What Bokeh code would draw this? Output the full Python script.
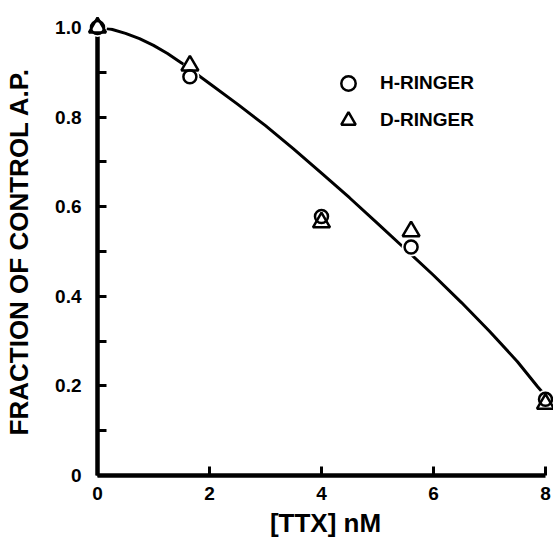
from bokeh.plotting import figure
from bokeh.models import Range1d, FixedTicker, Legend, LegendItem, ColumnDataSource
from bokeh.embed import file_html
from bokeh.resources import INLINE

# ---- data ----
ttx_nM = [0.0, 1.65, 4.0, 5.6, 8.0]
h_ringer = [1.0, 0.89, 0.578, 0.51, 0.17]
d_ringer = [1.0, 0.915, 0.565, 0.545, 0.16]

curve_x = [0.0, 0.25, 0.5, 0.75, 1.0, 1.25, 1.5, 2.0, 2.5, 3.0, 3.5, 4.0, 4.5, 5.0, 5.5, 6.0, 6.5, 7.0, 7.5, 7.86, 8.0]
curve_y = [1.0, 0.996, 0.987, 0.975, 0.960, 0.942, 0.921, 0.875, 0.829, 0.781, 0.729, 0.675, 0.62, 0.563, 0.505, 0.447, 0.386, 0.322, 0.254, 0.198, 0.178]

x_ticks = [0, 2, 4, 6, 8]
y_ticks = [0, 0.2, 0.4, 0.6, 0.8, 1.0]
y_minor = [0.1, 0.3, 0.5, 0.7, 0.9]
y_tick_labels = {0: "0", 0.2: "0.2", 0.4: "0.4", 0.6: "0.6", 0.8: "0.8", 1.0: "1.0"}

FONT = "Liberation Sans"

p = figure(width=553, height=544, output_backend="svg", toolbar_location=None,
           x_range=Range1d(0, 8.143), y_range=Range1d(0, 1.0),
           min_border_left=97, min_border_right=0, min_border_top=27, min_border_bottom=69)
p.outline_line_color = None
p.grid.visible = False

# curve
p.line(curve_x, curve_y, line_color="black", line_width=3)

src = ColumnDataSource(dict(x=ttx_nM, h=h_ringer, d=d_ringer))
# white halos break the line around the markers
p.scatter("x", "h", source=src, marker="circle", size=19, fill_color="white", line_color=None, level="overlay")
p.scatter("x", "d", source=src, marker="triangle", size=22, fill_color="white", line_color=None, level="overlay")
rh = p.scatter("x", "h", source=src, marker="circle", size=13, fill_color="white",
               line_color="black", line_width=2.5, level="overlay")
rd = p.scatter("x", "d", source=src, marker="triangle", size=17, fill_color=None,
               line_color="black", line_width=2.5, level="overlay")

# axes
xa = p.xaxis[0]
xa.ticker = FixedTicker(ticks=x_ticks)
xa.bounds = (0, 8)
xa.axis_label = "[TTX] nM"
ya = p.yaxis[0]
ya.ticker = FixedTicker(ticks=y_ticks, minor_ticks=y_minor)
ya.bounds = (0, 1.0)
ya.axis_label = "FRACTION OF CONTROL A.P."
ya.major_label_overrides = y_tick_labels

p.axis.axis_line_width = 4.5
p.axis.axis_line_color = "black"
p.axis.major_tick_in = 9
p.axis.major_tick_out = 0
p.axis.minor_tick_in = 9
p.axis.minor_tick_out = 0
p.axis.major_tick_line_width = 3
p.axis.minor_tick_line_width = 3
p.axis.major_tick_line_color = "black"
p.axis.minor_tick_line_color = "black"
p.axis.major_label_text_font = FONT
p.axis.major_label_text_font_style = "bold"
p.axis.major_label_text_font_size = "19px"
p.axis.major_label_text_color = "black"
p.axis.axis_label_text_font = FONT
p.axis.axis_label_text_font_style = "bold"
p.axis.axis_label_text_font_size = "26px"
p.axis.axis_label_text_color = "black"
xa.minor_tick_in = 0
xa.major_label_standoff = 11
xa.axis_label_standoff = 5
ya.major_label_standoff = 16
ya.axis_label_standoff = 18

legend = Legend(items=[LegendItem(label="H-RINGER", renderers=[rh]),
                       LegendItem(label="D-RINGER", renderers=[rd])],
                location=(233, 337), border_line_color=None, background_fill_alpha=0,
                padding=0, margin=0, spacing=1, glyph_width=36, glyph_height=36,
                label_standoff=14, label_height=20,
                label_text_font=FONT, label_text_font_style="bold",
                label_text_font_size="19px", label_text_color="black")
p.add_layout(legend)

open("out.html", "w").write(file_html(p, INLINE))
